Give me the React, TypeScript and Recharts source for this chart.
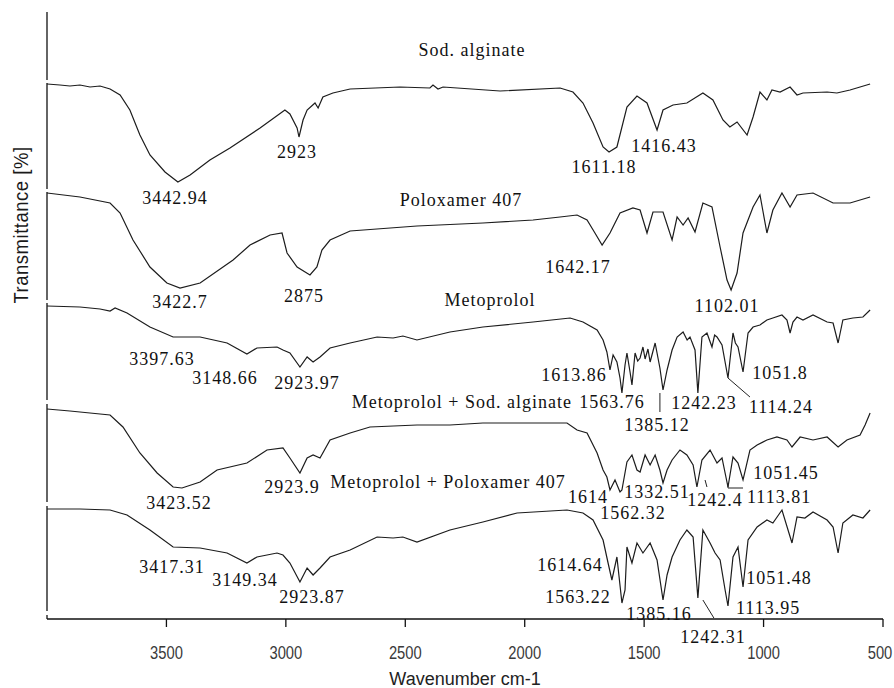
import React from 'react';
import { LineChart, Line, XAxis, YAxis, ReferenceDot, ReferenceLine, Label } from 'recharts';

type P = [number, number];

// Wavenumber (cm-1) and stacked transmittance values
const sodAlginate: P[] = [
  [4000, 535], [3946, 534], [3904, 533], [3862, 534], [3820, 532], [3778, 533], [3736, 530], [3694, 524],
  [3653, 509], [3611, 484], [3569, 464], [3506, 447], [3452, 437], [3401, 444], [3318, 459], [3234, 471],
  [3108, 491], [3004, 509], [2983, 505], [2953, 491], [2945, 482], [2928, 499], [2911, 509], [2878, 516],
  [2865, 511], [2845, 522], [2803, 526], [2731, 530], [2522, 532], [2397, 531], [2384, 534], [2363, 530],
  [2342, 532], [2103, 528], [1852, 531], [1798, 527], [1756, 516], [1714, 496], [1672, 472], [1647, 467],
  [1614, 472], [1572, 512], [1530, 523], [1488, 516], [1446, 489], [1421, 509], [1379, 514], [1321, 516],
  [1254, 526], [1212, 519], [1170, 499], [1141, 492], [1111, 497], [1069, 484], [1044, 502], [1015, 527],
  [986, 519], [965, 529], [931, 527], [889, 532], [860, 524], [835, 526], [734, 527], [693, 526],
  [638, 529], [554, 535],
];

const poloxamer407: P[] = [
  [4000, 426], [3862, 422], [3736, 416], [3694, 406], [3640, 379], [3569, 352], [3498, 336], [3443, 331],
  [3359, 336], [3221, 359], [3150, 374], [3066, 384], [3016, 386], [2995, 366], [2953, 352], [2899, 344],
  [2870, 352], [2849, 369], [2815, 379], [2731, 388], [2451, 393], [2175, 396], [1965, 399], [1852, 402],
  [1781, 404], [1739, 399], [1706, 386], [1676, 374], [1643, 386], [1601, 406], [1547, 411], [1517, 409],
  [1488, 386], [1463, 407], [1421, 407], [1383, 379], [1362, 402], [1337, 394], [1316, 401], [1287, 387],
  [1254, 416], [1216, 412], [1182, 372], [1153, 339], [1136, 329], [1111, 346], [1086, 386], [1044, 412],
  [1015, 424], [986, 386], [961, 409], [923, 426], [889, 412], [860, 424], [793, 426], [709, 416],
  [638, 416], [554, 422],
];

const metoprolol: P[] = [
  [4000, 313], [3862, 312], [3778, 310], [3736, 308], [3715, 311], [3665, 306], [3569, 292], [3472, 282],
  [3359, 282], [3246, 276], [3163, 265], [3121, 271], [3037, 272], [3012, 269], [2983, 266], [2941, 252],
  [2911, 262], [2886, 257], [2857, 262], [2815, 271], [2731, 276], [2618, 282], [2551, 281], [2510, 283],
  [2451, 279], [2313, 287], [2175, 292], [1965, 297], [1810, 301], [1756, 297], [1697, 289], [1672, 279],
  [1656, 267], [1643, 249], [1630, 264], [1614, 257], [1601, 241], [1593, 226], [1580, 254], [1572, 266],
  [1559, 247], [1551, 234], [1538, 266], [1527, 258], [1517, 261], [1505, 272], [1496, 260], [1484, 270],
  [1475, 257], [1454, 276], [1434, 251], [1421, 229], [1404, 249], [1383, 269], [1362, 282], [1337, 287],
  [1320, 279], [1308, 282], [1287, 269], [1275, 226], [1258, 282], [1237, 286], [1216, 272], [1205, 284],
  [1195, 282], [1174, 274], [1149, 241], [1128, 286], [1118, 276], [1107, 272], [1086, 247], [1065, 286],
  [1044, 292], [1015, 294], [986, 299], [961, 301], [923, 304], [902, 299], [889, 286], [877, 297],
  [860, 302], [835, 299], [793, 304], [734, 297], [709, 296], [688, 276], [668, 299], [626, 301],
  [584, 302], [554, 309],
];

const metSodAlginate: P[] = [
  [4000, 210], [3904, 208], [3820, 206], [3736, 204], [3682, 192], [3611, 166], [3539, 146], [3472, 132],
  [3435, 131], [3359, 137], [3288, 149], [3163, 156], [3079, 169], [3012, 171], [2983, 161], [2941, 146],
  [2911, 161], [2886, 164], [2857, 161], [2815, 179], [2731, 186], [2648, 192], [2451, 194], [2313, 194],
  [2175, 196], [1823, 196], [1781, 189], [1739, 186], [1697, 166], [1672, 149], [1656, 142], [1643, 129],
  [1622, 139], [1601, 127], [1593, 129], [1572, 157], [1551, 164], [1530, 149], [1517, 147], [1496, 164],
  [1475, 154], [1454, 164], [1434, 149], [1421, 136], [1404, 149], [1383, 159], [1350, 169], [1321, 164],
  [1295, 154], [1279, 132], [1258, 159], [1224, 169], [1195, 156], [1174, 161], [1149, 132], [1128, 162],
  [1107, 156], [1086, 139], [1057, 169], [1027, 174], [986, 179], [944, 182], [902, 179], [881, 172],
  [847, 182], [793, 179], [734, 182], [688, 172], [651, 179], [596, 184], [575, 194], [554, 206],
];

const metPoloxamer: P[] = [
  [4000, 110], [3862, 110], [3736, 109], [3665, 104], [3569, 89], [3472, 72], [3359, 71], [3246, 66],
  [3163, 56], [3121, 62], [3037, 66], [3012, 64], [2983, 56], [2941, 37], [2911, 51], [2886, 44],
  [2857, 51], [2815, 62], [2731, 69], [2618, 82], [2551, 81], [2510, 82], [2451, 77], [2313, 89],
  [2175, 97], [2032, 106], [1823, 109], [1756, 106], [1714, 99], [1672, 79], [1651, 56], [1635, 39],
  [1614, 62], [1593, 16], [1580, 29], [1572, 72], [1551, 56], [1530, 76], [1505, 66], [1475, 76],
  [1446, 59], [1421, 19], [1404, 44], [1383, 62], [1350, 79], [1321, 89], [1295, 82], [1275, 21],
  [1254, 89], [1224, 76], [1203, 66], [1182, 59], [1161, 29], [1149, 13], [1128, 62], [1107, 72],
  [1086, 32], [1065, 79], [1027, 92], [986, 99], [961, 96], [923, 109], [881, 76], [860, 102],
  [827, 101], [793, 107], [734, 99], [709, 92], [688, 66], [668, 96], [626, 104], [584, 101],
  [554, 109],
];

const seriesNames = ['Sod. alginate', 'Poloxamer 407', 'Metoprolol', 'Metoprolol + Sod. alginate', 'Metoprolol + Poloxamer 407'];
const seriesData = [sodAlginate, poloxamer407, metoprolol, metSodAlginate, metPoloxamer];

// Titles: [text, wavenumber, value]
const titles: [string, number, number][] = [
  ['Sod. alginate', 2221, 569],
  ['Poloxamer 407', 2267, 419],
  ['Metoprolol', 2145, 319],
  ['Metoprolol + Sod. alginate', 2263, 217],
  ['Metoprolol + Poloxamer 407', 2321, 137],
];

// Peak annotations: [text, wavenumber, value]
const peakLabels: [string, number, number][] = [
  ['3442.94', 3464, 421], ['2923', 2953, 467], ['1611.18', 1668, 452], ['1416.43', 1417, 473],
  ['3422.7', 3443, 317], ['2875', 2924, 323], ['1642.17', 1777, 352], ['1102.01', 1153, 313],
  ['3397.63', 3519, 260], ['3148.66', 3255, 241], ['2923.97', 2911, 236], ['1613.86', 1794, 244],
  ['1563.76', 1635, 217], ['1385.12', 1446, 194], ['1242.23', 1249, 216], ['1114.24', 927, 212],
  ['1051.8', 931, 246],
  ['3423.52', 3447, 116], ['2923.9', 2974, 132], ['1614', 1735, 122], ['1562.32', 1547, 106],
  ['1332.51', 1446, 127], ['1242.4', 1203, 119], ['1113.81', 935, 122], ['1051.45', 906, 146],
  ['3417.31', 3477, 52], ['3149.34', 3171, 39], ['2923.87', 2891, 22], ['1614.64', 1810, 54],
  ['1563.22', 1777, 22], ['1385.16', 1438, 5], ['1242.31', 1212, -18], ['1113.95', 981, 11],
  ['1051.48', 935, 41],
];

// Leader lines: [w1, v1, w2, v2]
const leaders: [number, number, number, number][] = [
  [1434, 226, 1434, 207],
  [1149, 241, 1057, 222],
  [1149, 136, 1149, 131],
  [1149, 131, 1086, 131],
  [1245, 139, 1237, 132],
  [1254, 19, 1208, 1],
];

// Pieces of the broken left axis (value ranges)
const yAxisPieces: [number, number][] = [
  [607, 539], [536, 430], [427, 319], [316, 219], [215, 117], [113, 8], [4, 0],
];

const xTicks = [3500, 3000, 2500, 2000, 1500, 1000, 500];

const serif = "'Liberation Serif', 'Times New Roman', serif";
const sans = "'Liberation Sans', Arial, sans-serif";

const textStyle = { fill: '#111', fontSize: 18, fontFamily: serif, letterSpacing: 1 };

const XTick = (props: any) => {
  const { x, y, payload } = props;
  const last = payload.value === 500;
  return (
    <g transform={`translate(${x},${y})`}>
      <text
        transform="scale(0.82,1)"
        x={last ? -3 / 0.82 : 0}
        y={0}
        dy="0.71em"
        textAnchor="middle"
        fill="#3a3a3a"
        fontSize={18}
        fontFamily={sans}
      >
        {payload.value}
      </text>
    </g>
  );
};

const YLabel = (props: any) => {
  const vb = props.viewBox || { x: 0, y: 12, width: 47, height: 607 };
  const cx = (vb.x || 0) + 21;
  const cy = (vb.y || 12) + 213;
  return (
    <g transform={`translate(${cx},${cy}) rotate(-90) scale(0.88,1)`}>
      <text
        x={0}
        y={0}
        textAnchor="middle"
        dominantBaseline="central"
        fill="#1a1a1a"
        fontSize={21}
        fontFamily={sans}
        letterSpacing={0.6}
      >
        Transmittance [%]
      </text>
    </g>
  );
};

export default function App() {
  return (
    <div style={{ position: 'absolute', left: 0, top: 0, background: '#fff' }}>
      <LineChart width={894} height={688} margin={{ top: 12, right: 11, bottom: 0, left: 0 }}>
        <XAxis
          type="number"
          dataKey="w"
          domain={[500, 4000]}
          reversed
          allowDataOverflow
          ticks={xTicks}
          interval={0}
          height={69}
          tickSize={8}
          tickMargin={19}
          axisLine={{ stroke: '#111', strokeWidth: 1.3 }}
          tickLine={{ stroke: '#111', strokeWidth: 1.3 }}
          tick={<XTick />}
        >
          <Label
            value="Wavenumber cm-1"
            position="insideBottom"
            offset={3}
            style={{ fill: '#222', fontSize: 18, fontFamily: sans }}
          />
        </XAxis>
        <YAxis
          type="number"
          domain={[0, 607]}
          width={47}
          tick={false}
          tickLine={false}
          axisLine={false}
          label={{ content: (p: any) => <YLabel {...p} /> }}
        />
        {yAxisPieces.map(([a, b], i) => (
          <ReferenceLine
            key={`ya${i}`}
            segment={[{ x: 4000, y: a }, { x: 4000, y: b }]}
            stroke="#111"
            strokeWidth={1.3}
            ifOverflow="visible"
          />
        ))}
        {seriesData.map((pts, i) => (
          <Line
            key={seriesNames[i]}
            name={seriesNames[i]}
            data={pts.map(([w, t]) => ({ w, t }))}
            dataKey="t"
            type="linear"
            stroke="#1c1c1c"
            strokeWidth={1.2}
            dot={false}
            activeDot={false}
            isAnimationActive={false}
          />
        ))}
        {leaders.map(([w1, v1, w2, v2], i) => (
          <ReferenceLine
            key={`ld${i}`}
            segment={[{ x: w1, y: v1 }, { x: w2, y: v2 }]}
            stroke="#222"
            strokeWidth={1}
            ifOverflow="visible"
          />
        ))}
        {titles.map(([t, w, v]) => (
          <ReferenceDot
            key={`t-${t}`}
            x={w}
            y={v}
            r={0}
            fill="none"
            stroke="none"
            ifOverflow="visible"
            label={{ value: t, position: 'center', ...textStyle }}
          />
        ))}
        {peakLabels.map(([t, w, v]) => (
          <ReferenceDot
            key={`p-${t}`}
            x={w}
            y={v}
            r={0}
            fill="none"
            stroke="none"
            ifOverflow="visible"
            label={{ value: t, position: 'center', ...textStyle }}
          />
        ))}
      </LineChart>
    </div>
  );
}
